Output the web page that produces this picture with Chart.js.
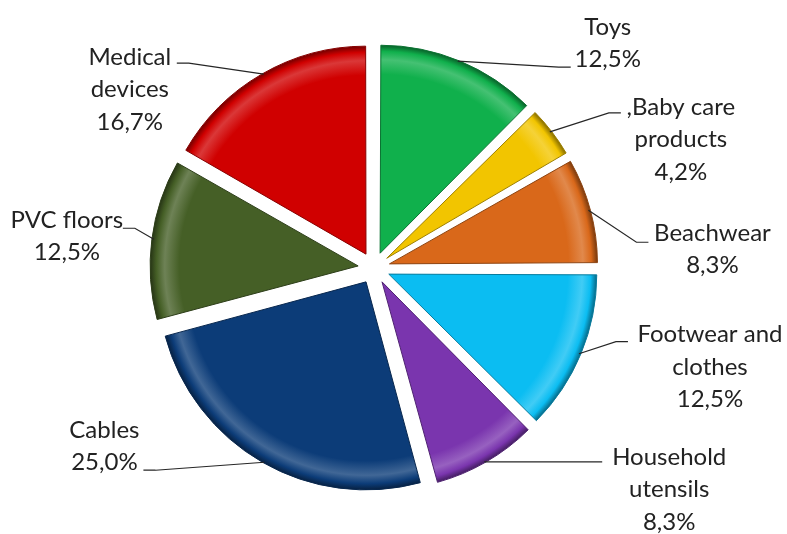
<!DOCTYPE html>
<html>
<head>
<meta charset="utf-8">
<script src="https://cdn.jsdelivr.net/npm/chart.js@4"></script>
<style>
  body { margin: 0; background: #fff; }
  #wrap { width: 787px; height: 534px; }
</style>
</head>
<body>
<div id="wrap"><canvas id="grafico"></canvas></div>
<script>
const categorias = ['Toys', ',Baby care products', 'Beachwear', 'Footwear and clothes',
    'Household utensils', 'Cables', 'PVC floors', 'Medical devices'];
const valores = [12.5, 4.2, 8.3, 12.5, 8.3, 25.0, 12.5, 16.7];
const linhasRotulo = [
    ['Toys'], [',Baby care', 'products'], ['Beachwear'], ['Footwear and', 'clothes'],
    ['Household', 'utensils'], ['Cables'], ['PVC floors'], ['Medical', 'devices']
];
const cores = ['#10B04C', '#F2C500', '#D9681A', '#0BBDF2', '#7A35AE', '#0C3C78', '#455F26', '#D00000'];

// layout of the labels, relative to the middle of each slice's rim
const posRotulo = [
    { cx: 148, y: -34, ex: 111, ey: 6 },
    { cx: 129, y: -25, ex: 69, ey: -19 },
    { cx: 122, y: 23, ex: 58, ey: 32 },
    { cx: 129, y: -19, ex: 47, ey: -12 },
    { cx: 183, y: -5, ex: 116, ey: 0 },
    { cx: -158, y: -32, ex: -119, ey: 8 },
    { cx: -85, y: -19, ex: -29, ey: -11 },
    { cx: -132, y: -17, ex: -85, ey: -11 }
];

const RAIO = 208;
const AFASTA = 16; // slice explosion in px

function ajustar(hex, f) {
    const n = parseInt(hex.slice(1), 16);
    let r = (n >> 16) & 255, g = (n >> 8) & 255, b = n & 255;
    if (f >= 0) {
        r += (255 - r) * f; g += (255 - g) * f; b += (255 - b) * f;
    } else {
        r *= 1 + f; g *= 1 + f; b *= 1 + f;
    }
    return `rgb(${Math.round(r)},${Math.round(g)},${Math.round(b)})`;
}

function preenchimento(ctx) {
    const chart = ctx.chart;
    const area = chart.chartArea;
    const base = cores[ctx.dataIndex];
    if (!area) return base;
    const cx = (area.left + area.right) / 2;
    const cy = (area.top + area.bottom) / 2;
    const g = chart.ctx.createRadialGradient(cx, cy, 0, cx, cy, RAIO);
    g.addColorStop(0, base);
    g.addColorStop(0.86, base);
    g.addColorStop(0.93, ajustar(base, 0.22));
    g.addColorStop(0.97, base);
    g.addColorStop(1, ajustar(base, -0.45));
    return g;
}

// chart.js grows the radius of narrow exploded slices; keep them all the same size
const raioFixo = {
    id: 'raioFixo',
    afterDatasetsUpdate(chart) {
        chart.getDatasetMeta(0).data.forEach(arc => {
            const fix = 1 - Math.sin(Math.min(Math.PI, arc.circumference));
            arc.outerRadius = RAIO - AFASTA * fix;
        });
    }
};

const rotulos = {
    id: 'rotulos',
    afterDraw(chart) {
        const ctx = chart.ctx;
        ctx.save();
        ctx.font = '24px Lato';
        ctx.fillStyle = '#222';
        ctx.strokeStyle = '#262626';
        ctx.lineWidth = 1.2;
        ctx.textAlign = 'center';
        ctx.textBaseline = 'middle';
        chart.getDatasetMeta(0).data.forEach((arc, i) => {
            const meio = (arc.startAngle + arc.endAngle) / 2;
            const px = arc.x + Math.cos(meio) * (RAIO + AFASTA);
            const py = arc.y + Math.sin(meio) * (RAIO + AFASTA);
            const p = posRotulo[i];
            const ex = px + p.ex, ey = py + p.ey;
            const dir = p.ex > 0 ? 1 : -1;
            ctx.beginPath();
            ctx.moveTo(px - dir * 2, py);
            ctx.lineTo(ex - dir * 12, ey);
            ctx.lineTo(ex, ey);
            ctx.stroke();
            const linhas = linhasRotulo[i].concat(valores[i].toFixed(1).replace('.', ',') + '%');
            linhas.forEach((t, k) => ctx.fillText(t, px + p.cx, py + p.y + k * 32.5));
        });
        ctx.restore();
    }
};

new Chart(document.getElementById('grafico'), {
    type: 'pie',
    data: {
        labels: categorias,
        datasets: [{
            data: valores,
            backgroundColor: preenchimento,
            borderColor: cores.map(c => ajustar(c, -0.35)),
            borderWidth: 1,
            offset: AFASTA * 4,
            radius: RAIO
        }]
    },
    options: {
        responsive: true,
        maintainAspectRatio: false,
        animation: false,
        events: [],
        layout: { padding: { left: 0, right: 39, top: 2, bottom: 0 } },
        plugins: {
            legend: { display: false },
            tooltip: { enabled: false }
        }
    },
    plugins: [raioFixo, rotulos]
});
</script>
</body>
</html>
